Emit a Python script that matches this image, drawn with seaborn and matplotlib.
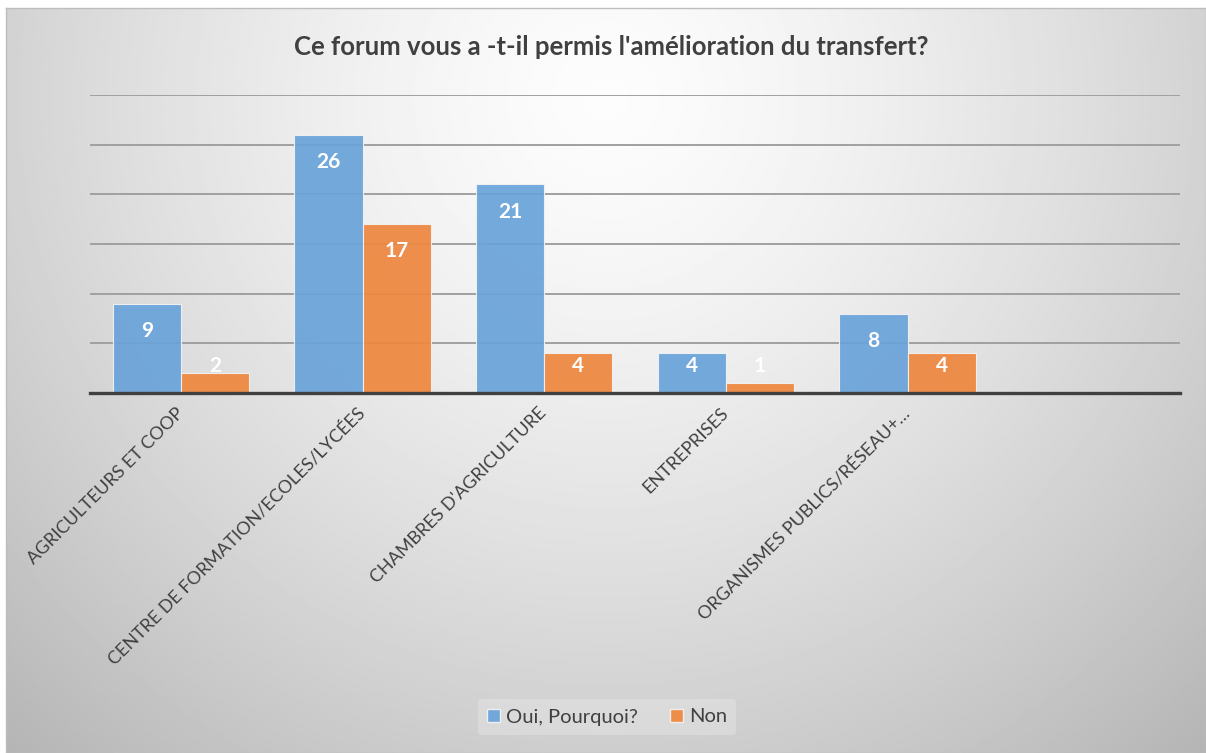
import numpy as np
import pandas as pd
import seaborn as sns
import matplotlib.pyplot as plt
from matplotlib.patches import Patch

# ── Data ─────────────────────────────────────────────────────────────
categories = [
    "AGRICULTEURS ET COOP",
    "CENTRE DE FORMATION/ECOLES/LYCÉES",
    "CHAMBRES D'AGRICULTURE",
    "ENTREPRISES",
    "ORGANISMES PUBLICS/RÉSEAU+…",
]
series_names = ["Oui, Pourquoi?", "Non"]
oui_values = [9, 26, 21, 4, 8]
non_values = [2, 17, 4, 1, 4]

TITLE = "Ce forum vous a -t-il permis l'amélioration du transfert?"
BLUE = "#6AA3DA"
ORANGE = "#EE873F"

df = pd.DataFrame({
    "categorie": categories * 2,
    "reponse": [series_names[0]] * len(categories) + [series_names[1]] * len(categories),
    "valeur": oui_values + non_values,
})

# ── Figure ───────────────────────────────────────────────────────────
sns.set_style("white")
plt.rcParams["font.family"] = ["Lato", "DejaVu Sans"]

W, H = 1206, 753
fig = plt.figure(figsize=(W / 100, H / 100), dpi=100)
fig.patch.set_facecolor("white")

# radial grey gradient background (Excel style)
bg = fig.add_axes([6 / W, 0, 1 - 6 / W, 1 - 8 / H], zorder=-5)
yy, xx = np.mgrid[0:1:400j, 0:1:600j]
r = np.sqrt(((xx - 0.5) / 0.62) ** 2 + ((yy - 0.12) / 1.0) ** 2)
shade = 0.99 - 0.22 * np.clip(r, 0, 1.2) ** 1.4
bg.imshow(shade, cmap="gray", vmin=0, vmax=1, aspect="auto",
          extent=[0, 1, 0, 1], origin="upper", interpolation="bilinear")
bg.set_xticks([])
bg.set_yticks([])
for s in bg.spines.values():
    s.set_color("#BDBDBD")
    s.set_linewidth(1)

ax = fig.add_axes([90 / W, 1 - 393 / H, (1180 - 90) / W, (393 - 95) / H])
ax.set_facecolor("none")

sns.barplot(
    data=df, x="categorie", y="valeur", hue="reponse",
    order=categories, hue_order=series_names,
    palette=[BLUE, ORANGE], width=0.75, alpha=0.93, saturation=1,
    edgecolor="#F2F2F2", linewidth=0.8, ax=ax, legend=False,
)

ax.set_xlim(-0.5, 5.5)
ax.set_ylim(0, 30)
ax.set_yticks(range(0, 31, 5))
ax.yaxis.grid(True, color="#A0A0A0", linewidth=1.4)
ax.set_axisbelow(True)
ax.tick_params(axis="y", left=False, labelleft=False)
ax.tick_params(axis="x", bottom=False, pad=9)
for s in ["top", "right", "left"]:
    ax.spines[s].set_visible(False)
ax.spines["bottom"].set_color("#404040")
ax.spines["bottom"].set_linewidth(2.4)
ax.set_xlabel("")
ax.set_ylabel("")

ax.set_xticks(range(len(categories)))
ax.set_xticklabels(categories, rotation=45, ha="right", va="center",
                   rotation_mode="anchor", fontsize=13, color="#404040")

# value labels, white bold, inside the top of each bar
for cont in ax.containers:
    for bar in cont:
        v = bar.get_height()
        y = max(v - 2.75, 2.75)
        ax.text(bar.get_x() + bar.get_width() / 2, y, f"{v:.0f}",
                ha="center", va="center", color="white",
                fontsize=15, fontweight="bold")

fig.text(0.507, 1 - 47 / H, TITLE, ha="center", va="center",
         fontsize=18.5, fontweight="bold", color="#404040")

handles = [Patch(facecolor=BLUE, alpha=0.93, edgecolor="#F2F2F2"),
           Patch(facecolor=ORANGE, alpha=0.93, edgecolor="#F2F2F2")]
leg = fig.legend(handles, series_names, loc="center",
                 bbox_to_anchor=(607 / W, 1 - 717 / H), ncol=2,
                 fontsize=14.5, frameon=True, handlelength=0.65,
                 handleheight=0.65, handletextpad=0.3, columnspacing=1.6,
                 borderpad=0.45)
leg.get_frame().set_facecolor("#E4E4E4")
leg.get_frame().set_edgecolor("none")
leg.get_frame().set_alpha(0.5)
for t in leg.get_texts():
    t.set_color("#404040")

fig.savefig("out.png", dpi=100)
